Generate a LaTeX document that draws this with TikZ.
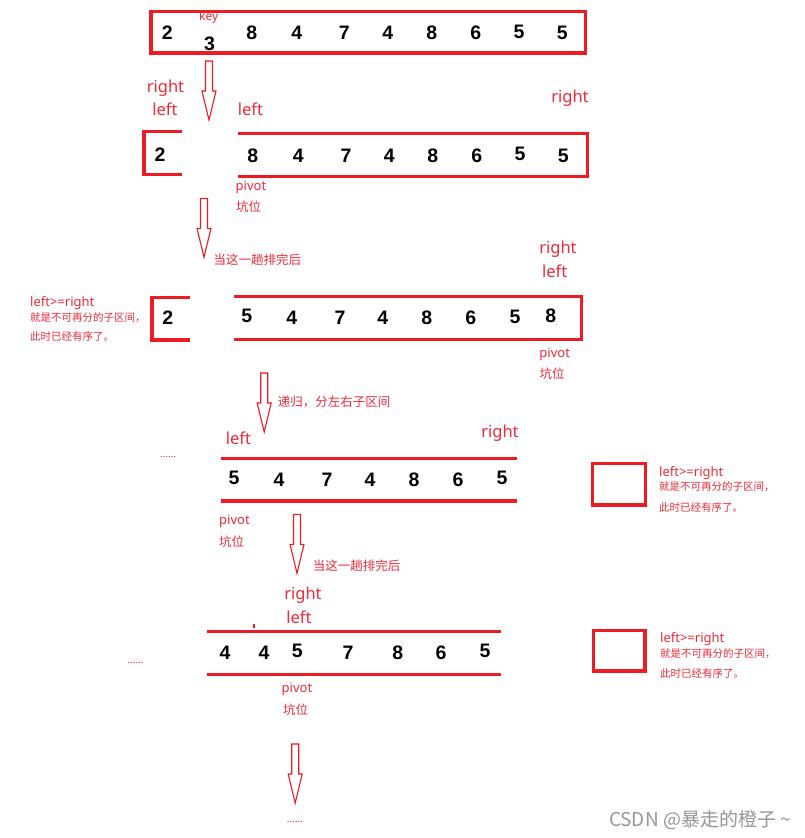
\documentclass[tikz,border=0pt]{standalone}
\usepackage{fontspec}
\setmainfont{Noto Sans}
\newfontfamily\cjk{Noto Sans CJK SC}
\newfontfamily\numfont{Liberation Sans}
\definecolor{pr}{RGB}{237,28,36}
\definecolor{tr}{RGB}{238,42,58}
\definecolor{wm}{RGB}{150,150,150}
\tikzset{
  num/.style={font=\numfont\fontsize{19.5}{20}\selectfont\bfseries, inner sep=0pt},
  big/.style={text=tr, font=\fontsize{16.5}{18}\selectfont, inner sep=0pt},
  small/.style={text=tr, font=\fontsize{13}{14}\selectfont, inner sep=0pt},
  smallcjk/.style={text=tr, font=\cjk\fontsize{12.5}{14}\selectfont, inner sep=0pt},
  note/.style={text=tr, font=\cjk\fontsize{10.5}{12}\selectfont, inner sep=0pt, anchor=west},
  notehead/.style={text=tr, font=\fontsize{13}{14}\selectfont, inner sep=0pt, anchor=west},
  dots/.style={text=tr, font=\fontsize{10}{10}\selectfont\bfseries, inner sep=0pt},
  bar/.style={draw=pr, line width=3.3pt, line join=miter},
  blockarrow/.pic={\draw[pr, line width=1.1pt, line join=miter] (-3.5,0) -- (3.5,0) -- (3.5,30) -- (7,30) -- (0,59) -- (-7,30) -- (-3.5,30) -- cycle;}
}
\begin{document}
\begin{tikzpicture}[x=1pt,y=-1pt]
\useasboundingbox[fill=white] (0,0) rectangle (804,838);

% ---------- row 1 ----------
\draw[bar] (151,11.7) rectangle (585.3,53);
\node[num] (a1) at (167.3,33) {2};
\node[small, font=\fontsize{12}{13}\selectfont] (key) at (208.7,17.3) {key};
\node[num] (a2) at (209.5,44) {3};
\node[num] (a3) at (251.7,33) {8};
\node[num] (a4) at (296.7,33) {4};
\node[num] (a5) at (344.3,33) {7};
\node[num] (a6) at (387.7,33) {4};
\node[num] (a7) at (431.7,33) {8};
\node[num] (a8) at (475.7,33) {6};
\node[num] (a9) at (519,31.5) {5};
\node[num] (a10) at (562.3,33) {5};

\pic at (209,61) {blockarrow};

% ---------- row 2 ----------
\node[big] (r2right1) at (165.5,88) {right};
\node[big] (r2left1) at (165,109) {left};
\node[big] (r2left2) at (250.5,109) {left};
\node[big] (r2right2) at (570,98.7) {right};
\draw[bar] (182.3,131.2) -- (144,131.2) -- (144,174.5) -- (182.3,174.5);
\draw[bar] (237.7,133.2) -- (587.7,133.2) -- (587.7,176.2) -- (237.7,176.2);
\node[num] (b1) at (160,154.5) {2};
\node[num] (b2) at (252.7,156) {8};
\node[num] (b3) at (298.3,156) {4};
\node[num] (b4) at (346,156) {7};
\node[num] (b5) at (389.3,156) {4};
\node[num] (b6) at (432.7,156) {8};
\node[num] (b7) at (476.7,156) {6};
\node[num] (b8) at (520,153.5) {5};
\node[num] (b9) at (563.3,156) {5};
\node[small] (piv2) at (251,187.7) {pivot};
\node[smallcjk] (keng2) at (248.5,206.7) {坑位};

\pic at (204,198.3) {blockarrow};
\node[smallcjk, anchor=west] (t2) at (213.3,259.3) {当这一趟排完后};

% ---------- row 3 ----------
\node[big] (r3right) at (558,249.3) {right};
\node[big] (r3left) at (554.7,271.7) {left};
\node[notehead] (n3a) at (30,303.3) {left>=right};
\node[note] (n3b) at (30,317.7) {就是不可再分的子区间，};
\node[note] (n3c) at (30,336.7) {此时已经有序了。};
\draw[bar] (190,297.7) -- (152,297.7) -- (152,340) -- (190,340);
\draw[bar] (233.7,296.7) -- (581.3,296.7) -- (581.3,339.3) -- (233.7,339.3);
\node[num] (c1) at (167.7,318) {2};
\node[num] (c2) at (246.7,316) {5};
\node[num] (c3) at (291.7,318) {4};
\node[num] (c4) at (340,318) {7};
\node[num] (c5) at (382.7,318) {4};
\node[num] (c6) at (426.7,318) {8};
\node[num] (c7) at (470.7,318) {6};
\node[num] (c8) at (515,316.5) {5};
\node[num] (c9) at (550.7,316) {8};
\node[small] (piv3) at (554.7,354) {pivot};
\node[smallcjk] (keng3) at (552,374) {坑位};

\pic at (264.2,373) {blockarrow};
\node[smallcjk, anchor=west] (t3) at (277.7,402) {递归，分左右子区间};

% ---------- row 4 ----------
\node[big] (r4left) at (238.5,438) {left};
\node[big] (r4right) at (500,433) {right};
\node[dots] (dots4) at (168,457) {......};
\draw[bar] (221,458.3) -- (517,458.3);
\draw[bar] (221,501) -- (517,501);
\node[num] (d1) at (234,478) {5};
\node[num] (d2) at (279,480) {4};
\node[num] (d3) at (327,480) {7};
\node[num] (d4) at (370,480) {4};
\node[num] (d5) at (414,480) {8};
\node[num] (d6) at (458,480) {6};
\node[num] (d7) at (502,478) {5};
\node[small] (piv4) at (234.5,521) {pivot};
\node[smallcjk] (keng4) at (231.5,542) {坑位};
\draw[bar] (592.7,463.3) rectangle (645.7,505);
\node[notehead] (n4a) at (659,472.7) {left>=right};
\node[note] (n4b) at (659,486.5) {就是不可再分的子区间，};
\node[note] (n4c) at (659,507) {此时已经有序了。};

\pic at (297,514.3) {blockarrow};
\node[smallcjk, anchor=west] (t4) at (312.7,565.7) {当这一趟排完后};

% ---------- row 5 ----------
\node[big] (r5right) at (303,595.7) {right};
\node[big] (r5left) at (299,617.7) {left};
\fill[pr] (253,624) rectangle (254.5,627.5);
\node[dots] (dots5) at (135.5,663) {......};
\draw[bar] (206.7,631.2) -- (500.7,631.2);
\draw[bar] (206.7,674.5) -- (500.7,674.5);
\node[num] (e1) at (225,653) {4};
\node[num] (e2) at (264,653) {4};
\node[num] (e3) at (297.3,651) {5};
\node[num] (e4) at (348,653) {7};
\node[num] (e5) at (397.7,653) {8};
\node[num] (e6) at (441,653) {6};
\node[num] (e7) at (485,651) {5};
\node[small] (piv5) at (297,689) {pivot};
\node[smallcjk] (keng5) at (295.5,710) {坑位};
\draw[bar] (593.3,630.7) rectangle (645,671);
\node[notehead] (n5a) at (660,639.3) {left>=right};
\node[note] (n5b) at (660,653.3) {就是不可再分的子区间，};
\node[note] (n5c) at (660,673.3) {此时已经有序了。};

\pic at (295.2,744) {blockarrow};
\node[dots] (dots6) at (295,822) {......};

% watermark
\node[text=wm, font=\cjk\fontsize{19}{20}\selectfont, inner sep=0pt, anchor=east] (wmk) at (791,820) {CSDN @暴走的橙子 \textasciitilde};
\end{tikzpicture}
\end{document}
